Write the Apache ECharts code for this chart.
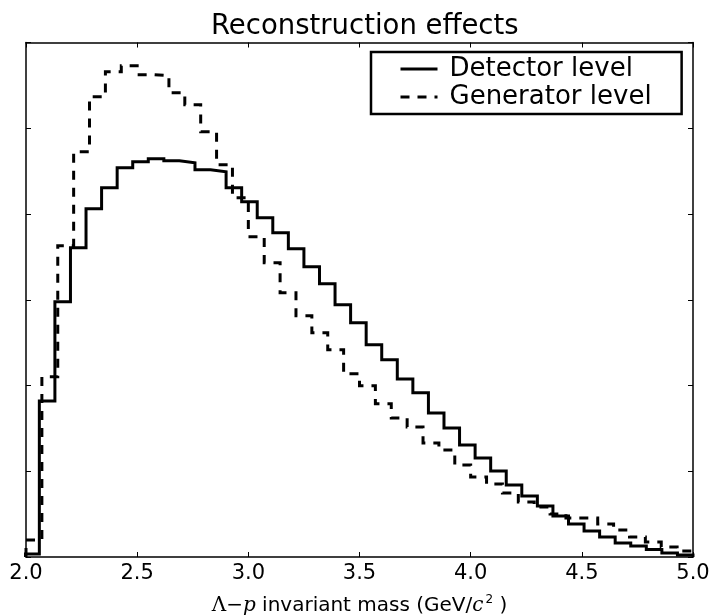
<!DOCTYPE html>
<html>
<head>
<meta charset="utf-8">
<title>Reconstruction effects</title>
<script src="https://cdn.jsdelivr.net/npm/echarts@6.0.0/dist/echarts.min.js"></script>
<style>
  html, body { margin: 0; padding: 0; background: #ffffff; overflow: hidden; }
  #chart { width: 714px; height: 616px; }
</style>
</head>
<body>
<div id="chart"></div>
<script>
// histogram settings (bin range and number of bins)
const detRange = [1.99, 5.0];
const detBins = 43;
const genRange = [2.0, 5.0];
const genBins = 42;

// bin contents
const detCounts = [35, 1820, 2976, 3606, 4061, 4306, 4540, 4610, 4645, 4621,
  4598, 4516, 4493, 4306, 4143, 3956, 3781, 3594, 3384, 3186,
  2941, 2731, 2474, 2299, 2077, 1914, 1680, 1505, 1307, 1155,
  1004, 840, 712, 595, 478, 385, 303, 233, 163, 128,
  88, 47, 23];
const genCounts = [198, 2101, 3629, 4726, 5368, 5660, 5730, 5625, 5613, 5415,
  5275, 4960, 4575, 4190, 3734, 3431, 3081, 2812, 2614, 2416,
  2136, 1996, 1786, 1622, 1517, 1330, 1249, 1074, 934, 852,
  747, 642, 584, 502, 455, 455, 385, 315, 233, 175,
  117, 70];

const xTicks = [2.0, 2.5, 3.0, 3.5, 4.0, 4.5, 5.0];
const seriesNames = ['Detector level', 'Generator level'];

function binEdges(range, n) {
  let edges = [];
  for (let i = 0; i <= n; i++) {
    edges.push(range[0] + (range[1] - range[0]) * i / n);
  }
  return edges;
}

// outline of a histogram (like histtype='step')
function stepPoints(edges, counts) {
  let pts = [[edges[0], 0]];
  for (let i = 0; i < counts.length; i++) {
    pts.push([edges[i], counts[i]]);
    pts.push([edges[i + 1], counts[i]]);
  }
  pts.push([edges[edges.length - 1], 0]);
  return pts;
}

const FONT = 'DejaVu Sans';
const dash = [9, 8];

let chart = echarts.init(document.getElementById('chart'), null, {renderer: 'canvas'});

const axisLine = {show: true, onZero: false, lineStyle: {color: '#000', width: 1.5}};
const tick = {show: true, inside: true, length: 5, lineStyle: {color: '#000', width: 1}};

let option = {
  backgroundColor: '#ffffff',
  animation: false,
  color: ['#000', '#000'],
  title: {
    text: 'Reconstruction effects',
    left: 211,
    top: 13,
    padding: 0,
    textStyle: {fontFamily: FONT, fontSize: 27.5, fontWeight: 'normal', color: '#000'}
  },
  legend: {
    orient: 'vertical',
    left: 371,
    top: 52,
    padding: [3, 30, 3, 28],
    itemGap: 0,
    itemWidth: 37,
    itemHeight: 14,
    borderColor: '#000',
    borderWidth: 2.5,
    borderRadius: 0,
    textStyle: {fontFamily: FONT, fontSize: 26, color: '#000', lineHeight: 28, padding: [0, 0, 0, 7]},
    data: [
      {name: seriesNames[0], itemStyle: {opacity: 0}, lineStyle: {width: 3, type: 'solid', color: '#000'}},
      {name: seriesNames[1], itemStyle: {opacity: 0}, lineStyle: {width: 3, type: dash, color: '#000'}}
    ]
  },
  grid: {left: 26, top: 42.5, right: 21, bottom: 59, containLabel: false, outerBoundsMode: 'none'},
  xAxis: [
    {
      type: 'value',
      position: 'bottom',
      min: xTicks[0],
      max: xTicks[xTicks.length - 1],
      interval: 0.5,
      axisLine: axisLine,
      axisTick: tick,
      splitLine: {show: false},
      axisLabel: {
        show: true,
        margin: 6,
        fontFamily: FONT,
        fontSize: 21,
        color: '#000',
        formatter: v => v.toFixed(1)
      },
      name: '{s|Λ−}{i|p}{t| invariant mass (GeV/}{i|c}{sup|2}{t| )}',
      nameLocation: 'middle',
      nameGap: 37,
      nameTextStyle: {
        color: '#000',
        rich: {
          s: {fontFamily: 'DejaVu Serif', fontSize: 20, color: '#000'},
          i: {fontFamily: 'DejaVu Serif', fontStyle: 'italic', fontSize: 20, color: '#000'},
          t: {fontFamily: FONT, fontSize: 20, color: '#000'},
          sup: {fontFamily: FONT, fontSize: 12, color: '#000', verticalAlign: 'top', padding: [0, 0, 11, 2]}
        }
      }
    },
    {
      type: 'value',
      position: 'top',
      min: xTicks[0],
      max: xTicks[xTicks.length - 1],
      interval: 0.5,
      axisLine: axisLine,
      axisTick: tick,
      splitLine: {show: false},
      axisLabel: {show: false}
    }
  ],
  yAxis: [
    {
      type: 'value',
      position: 'left',
      min: 0,
      max: 6000,
      interval: 1000,
      axisLine: axisLine,
      axisTick: tick,
      splitLine: {show: false},
      axisLabel: {show: false}
    },
    {
      type: 'value',
      position: 'right',
      min: 0,
      max: 6000,
      interval: 1000,
      axisLine: axisLine,
      axisTick: tick,
      splitLine: {show: false},
      axisLabel: {show: false}
    }
  ],
  series: [
    {
      name: seriesNames[0],
      type: 'line',
      xAxisIndex: 0,
      yAxisIndex: 0,
      symbol: 'none',
      clip: true,
      itemStyle: {color: '#000'},
      lineStyle: {color: '#000', width: 3, type: 'solid', join: 'miter'},
      data: stepPoints(binEdges(detRange, detBins), detCounts)
    },
    {
      name: seriesNames[1],
      type: 'line',
      xAxisIndex: 0,
      yAxisIndex: 0,
      symbol: 'none',
      clip: true,
      itemStyle: {color: '#000'},
      lineStyle: {color: '#000', width: 3, type: dash, cap: 'butt', join: 'miter'},
      data: stepPoints(binEdges(genRange, genBins), genCounts)
    }
  ]
};

chart.setOption(option);
</script>
</body>
</html>
